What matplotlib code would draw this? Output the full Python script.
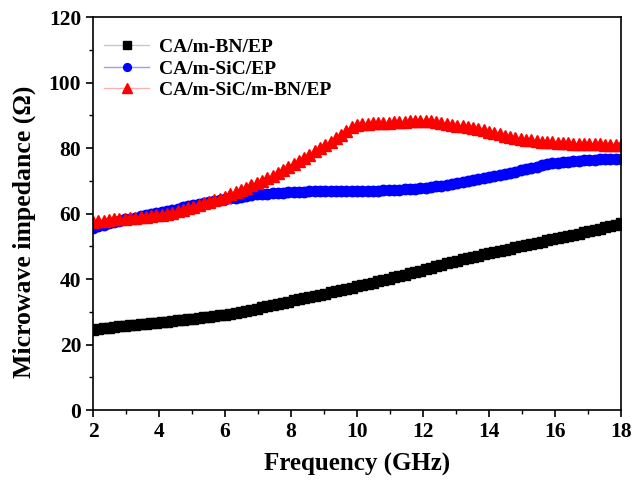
import numpy as np
import matplotlib
matplotlib.use('Agg')
import matplotlib.pyplot as plt
from matplotlib.ticker import MultipleLocator

plt.rcParams['font.family'] = ['Liberation Serif', 'DejaVu Serif']
plt.rcParams['font.weight'] = 'bold'

# frequency grid, 101 points from 2 to 18 GHz
freq = np.linspace(2, 18, 101)

bn_ep = [24.6, 24.8, 25.0, 25.2, 25.4, 25.6, 25.8, 25.9, 26.1, 26.2,
         26.4, 26.6, 26.7, 26.9, 27.0, 27.2, 27.4, 27.5, 27.7, 27.9,
         28.1, 28.3, 28.5, 28.7, 29.0, 29.2, 29.5, 29.8, 30.1, 30.4,
         30.7, 31.0, 31.4, 31.7, 32.1, 32.4, 32.8, 33.1, 33.5, 33.8,
         34.2, 34.5, 34.9, 35.2, 35.6, 36.0, 36.3, 36.7, 37.0, 37.4,
         37.8, 38.2, 38.6, 38.9, 39.3, 39.7, 40.1, 40.5, 40.9, 41.3,
         41.8, 42.2, 42.6, 43.0, 43.4, 43.9, 44.3, 44.8, 45.2, 45.6,
         46.0, 46.4, 46.8, 47.2, 47.6, 48.0, 48.3, 48.7, 49.0, 49.3,
         49.7, 50.0, 50.3, 50.6, 51.0, 51.4, 51.8, 52.2, 52.5, 52.9,
         53.2, 53.6, 53.9, 54.3, 54.7, 55.0, 55.4, 55.8, 56.2, 56.6,
         57.0]

sic_ep = [55.7, 56.2, 56.6, 57.0, 57.4, 57.8, 58.2, 58.5, 58.8, 59.2,
          59.5, 59.8, 60.2, 60.5, 60.8, 61.2, 61.5, 61.9, 62.2, 62.6,
          62.9, 63.2, 63.5, 63.8, 64.1, 64.5, 64.7, 64.9, 65.2, 65.4,
          65.6, 65.9, 66.0, 66.1, 66.2, 66.3, 66.4, 66.6, 66.7, 66.7,
          66.7, 66.8, 66.8, 66.8, 66.9, 66.9, 66.9, 66.9, 67.0, 67.0,
          67.0, 67.0, 67.0, 67.0, 67.0, 67.1, 67.1, 67.2, 67.3, 67.4,
          67.5, 67.6, 67.7, 67.9, 68.1, 68.3, 68.5, 68.8, 69.0, 69.3,
          69.6, 69.9, 70.2, 70.5, 70.9, 71.2, 71.5, 71.8, 72.2, 72.5,
          72.8, 73.2, 73.6, 74.0, 74.3, 74.7, 75.0, 75.3, 75.5, 75.7,
          75.9, 76.0, 76.2, 76.3, 76.4, 76.5, 76.6, 76.6, 76.7, 76.7,
          76.8]

sic_bn_ep = [57.4, 57.6, 57.8, 58.0, 58.2, 58.3, 58.5, 58.7, 58.8, 59.0,
             59.1, 59.3, 59.5, 59.7, 60.0, 60.3, 60.7, 61.1, 61.6, 62.1,
             62.6, 63.1, 63.6, 64.1, 64.6, 65.2, 65.9, 66.6, 67.3, 67.9,
             68.6, 69.3, 70.0, 70.8, 71.6, 72.4, 73.3, 74.2, 75.1, 76.0,
             77.0, 78.0, 79.0, 80.0, 81.0, 82.0, 83.0, 84.1, 85.3, 86.4,
             87.0, 87.2, 87.4, 87.5, 87.6, 87.7, 87.8, 87.9, 88.0, 88.1,
             88.2, 88.3, 88.4, 88.4, 88.2, 87.9, 87.6, 87.3, 87.0, 86.8,
             86.6, 86.4, 86.1, 85.8, 85.4, 85.0, 84.6, 84.2, 83.8, 83.5,
             83.2, 82.9, 82.6, 82.4, 82.2, 82.0, 81.9, 81.8, 81.6, 81.5,
             81.4, 81.3, 81.3, 81.2, 81.2, 81.1, 81.1, 81.0, 81.0, 81.0,
             80.9]

labels = ['CA/m-BN/EP', 'CA/m-SiC/EP', 'CA/m-SiC/m-BN/EP']

fig = plt.figure(figsize=(6.33, 4.86), dpi=100)
ax = fig.add_axes([0.147, 0.156, 0.834, 0.809])

ax.plot(freq, bn_ep, color='#c8c8c8', lw=1, marker='s', ms=7,
        mfc='black', mec='black', label=labels[0])
ax.plot(freq, sic_ep, color='#9a9aff', lw=1, marker='o', ms=7.5,
        mfc='blue', mec='blue', label=labels[1])
ax.plot(freq, sic_bn_ep, color='#ffb0b0', lw=1, marker='^', ms=9,
        mfc='red', mec='red', label=labels[2])

ax.set_xlim(2, 18)
ax.set_ylim(0, 120)
ax.xaxis.set_major_locator(MultipleLocator(2))
ax.xaxis.set_minor_locator(MultipleLocator(1))
ax.yaxis.set_major_locator(MultipleLocator(20))
ax.yaxis.set_minor_locator(MultipleLocator(10))
ax.tick_params(which='major', direction='out', length=5, width=1.2,
               labelsize=15.5)
ax.tick_params(which='minor', direction='out', length=3, width=1)
for s in ax.spines.values():
    s.set_linewidth(1.2)

ax.set_xlabel('Frequency (GHz)', fontsize=18, fontweight='bold', labelpad=8)
ax.set_ylabel('Microwave impedance (\u03a9)', fontsize=18.5, fontweight='bold')
ax.yaxis.set_label_coords(-0.108, 0.453)

ax.legend(loc='upper left', frameon=False, fontsize=14, markerscale=0.75,
          bbox_to_anchor=(-0.012, 0.99), handlelength=2.3, labelspacing=0.2,
          handletextpad=0.5)

fig.savefig('out.png', dpi=100)
